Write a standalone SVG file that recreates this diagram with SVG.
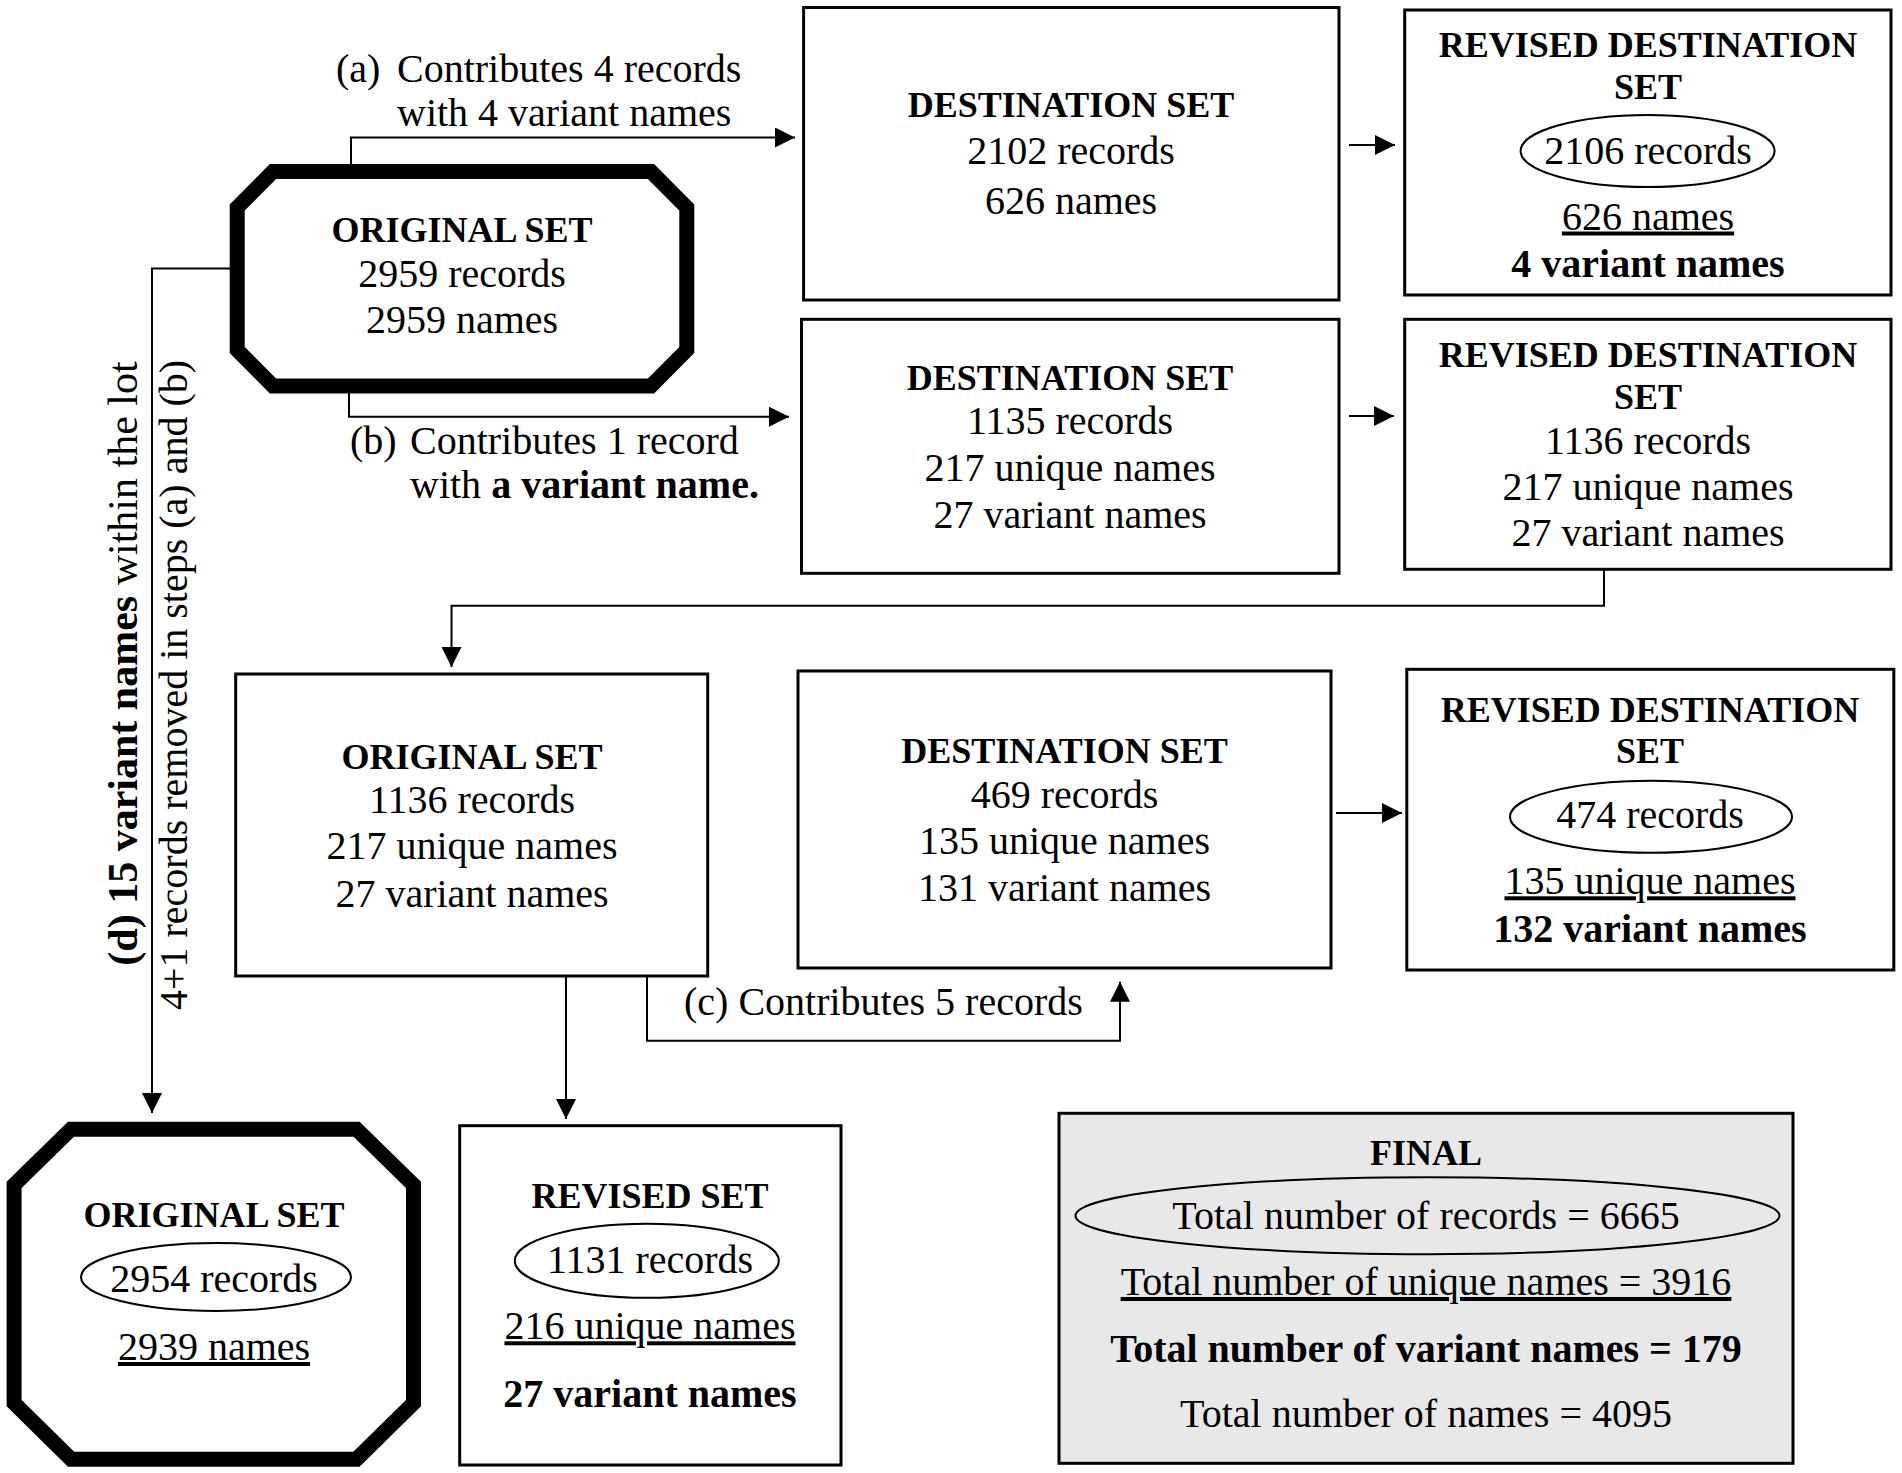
<svg xmlns="http://www.w3.org/2000/svg" width="1902" height="1473" viewBox="0 0 1902 1473">
<style>
.t{font-family:"Liberation Serif","Times New Roman",serif;font-size:40px;text-anchor:middle;fill:#000}
.h{font-weight:bold;font-size:36px}
.b{font-weight:bold}
.l{text-anchor:start}
.u{text-decoration:underline}
.box{fill:#fff;stroke:#000;stroke-width:3}
.oct{fill:#fff;stroke:#000;stroke-width:15;stroke-linejoin:miter}
.ell{fill:none;stroke:#000;stroke-width:2}
.conn{fill:none;stroke:#000;stroke-width:2}
</style>
<defs>
<marker id="arr" markerUnits="userSpaceOnUse" markerWidth="20" markerHeight="20" refX="20" refY="10" orient="auto">
<path d="M0,0 L20,10 L0,20 Z" fill="#000"/>
</marker>
</defs>
<rect width="1902" height="1473" fill="#fff"/>

<g id="connectors">
<path class="conn" d="M351,164 V137.5 H795" marker-end="url(#arr)"/>
<path class="conn" d="M349,393 V416.7 H789" marker-end="url(#arr)"/>
<path class="conn" d="M230,268.5 H152 V1113" marker-end="url(#arr)"/>
<path class="conn" d="M1349,145 H1395" marker-end="url(#arr)"/>
<path class="conn" d="M1349,416 H1394" marker-end="url(#arr)"/>
<path class="conn" d="M1604,569 V605.7 H451.5 V667" marker-end="url(#arr)"/>
<path class="conn" d="M1336,813 H1402" marker-end="url(#arr)"/>
<path class="conn" d="M566,976 V1119" marker-end="url(#arr)"/>
<path class="conn" d="M647,976 V1040.7 H1120 V981.7" marker-end="url(#arr)"/>
</g>

<g id="labels">
<text class="t l" x="336" y="82">(a)</text>
<text class="t l" x="397" y="82">Contributes 4 records</text>
<text class="t l" x="397" y="126">with 4 variant names</text>
<text class="t l" x="350" y="454">(b)</text>
<text class="t l" x="410" y="454">Contributes 1 record</text>
<text class="t l" x="410" y="498">with <tspan class="b">a variant name.</tspan></text>
<text class="t l" x="684" y="1015">(c) Contributes 5 records</text>
<text class="t" style="font-size:42px" transform="translate(137,663.5) rotate(-90)"><tspan class="b">(d) 15 variant names</tspan> within the lot</text>
<text class="t" transform="translate(186.5,685) rotate(-90)">4+1 records removed in steps (a) and (b)</text>
</g>

<g id="original-set-1">
<polygon class="oct" points="273,171.5 651,171.5 686.8,207.5 686.8,350 651,386 273,386 237.2,350 237.2,207.5"/>
<text class="t h" x="462" y="241.7">ORIGINAL SET</text>
<text class="t" x="462" y="286.7">2959 records</text>
<text class="t" x="462" y="333.3">2959 names</text>
</g>

<g id="destination-set-1">
<rect class="box" x="803.6" y="7.5" width="535.4" height="292.5"/>
<text class="t h" x="1071" y="116.5">DESTINATION SET</text>
<text class="t" x="1071" y="163.5">2102 records</text>
<text class="t" x="1071" y="213.5">626 names</text>
</g>

<g id="revised-destination-set-1">
<rect class="box" x="1404.7" y="10" width="486.3" height="285"/>
<text class="t h" x="1648" y="57">REVISED DESTINATION</text>
<text class="t h" x="1648" y="98.5">SET</text>
<ellipse class="ell" cx="1647.6" cy="151" rx="127" ry="36"/>
<text class="t" x="1648" y="164">2106 records</text>
<text class="t u" x="1648" y="229.5">626 names</text>
<text class="t b" x="1648" y="276.5">4 variant names</text>
</g>

<g id="destination-set-2">
<rect class="box" x="801.5" y="319.3" width="537.5" height="254"/>
<text class="t h" x="1070" y="390.3">DESTINATION SET</text>
<text class="t" x="1070" y="433.5">1135 records</text>
<text class="t" x="1070" y="481">217 unique names</text>
<text class="t" x="1070" y="527.5">27 variant names</text>
</g>

<g id="revised-destination-set-2">
<rect class="box" x="1404.7" y="319.3" width="486.3" height="250"/>
<text class="t h" x="1648" y="366.5">REVISED DESTINATION</text>
<text class="t h" x="1648" y="409">SET</text>
<text class="t" x="1648" y="453.5">1136 records</text>
<text class="t" x="1648" y="500">217 unique names</text>
<text class="t" x="1648" y="545.5">27 variant names</text>
</g>

<g id="original-set-2">
<rect class="box" x="235.7" y="674" width="472" height="302"/>
<text class="t h" x="472" y="768.5">ORIGINAL SET</text>
<text class="t" x="472" y="813">1136 records</text>
<text class="t" x="472" y="859">217 unique names</text>
<text class="t" x="472" y="906.5">27 variant names</text>
</g>

<g id="destination-set-3">
<rect class="box" x="798" y="671" width="533" height="297"/>
<text class="t h" x="1064.5" y="762.7">DESTINATION SET</text>
<text class="t" x="1064.5" y="808.3">469 records</text>
<text class="t" x="1064.5" y="854">135 unique names</text>
<text class="t" x="1064.5" y="900.7">131 variant names</text>
</g>

<g id="revised-destination-set-3">
<rect class="box" x="1406.8" y="669.3" width="487" height="300.7"/>
<text class="t h" x="1650" y="721.7">REVISED DESTINATION</text>
<text class="t h" x="1650" y="763.3">SET</text>
<ellipse class="ell" cx="1651" cy="816.8" rx="141" ry="36"/>
<text class="t" x="1650" y="828.3">474 records</text>
<text class="t u" x="1650" y="894.3">135 unique names</text>
<text class="t b" x="1650" y="941.7">132 variant names</text>
</g>

<g id="original-set-final">
<polygon class="oct" points="71,1129.2 356.5,1129.2 413.5,1185 413.5,1403 356.5,1459.2 71,1459.2 14.1,1403 14.1,1185"/>
<text class="t h" x="214" y="1226.7">ORIGINAL SET</text>
<ellipse class="ell" cx="216" cy="1277" rx="135" ry="34"/>
<text class="t" x="214" y="1291.7">2954 records</text>
<text class="t u" x="214" y="1360">2939 names</text>
</g>

<g id="revised-set">
<rect class="box" x="459.7" y="1125.7" width="381.3" height="339.3"/>
<text class="t h" x="650" y="1208.3">REVISED SET</text>
<ellipse class="ell" cx="646.8" cy="1260.8" rx="132" ry="37"/>
<text class="t" x="650" y="1272.7">1131 records</text>
<text class="t u" x="650" y="1339.3">216 unique names</text>
<text class="t b" x="650" y="1406.7">27 variant names</text>
</g>

<g id="final">
<rect class="box" x="1059" y="1113.3" width="734" height="350" style="fill:#e8e8e8"/>
<text class="t h" x="1426" y="1165">FINAL</text>
<ellipse class="ell" cx="1427.5" cy="1215.7" rx="352" ry="38.5"/>
<text class="t" x="1426" y="1229.3">Total number of records = 6665</text>
<text class="t u" x="1426" y="1295">Total number of unique names = 3916</text>
<text class="t b" x="1426" y="1361.7">Total number of variant names = 179</text>
<text class="t" x="1426" y="1426.7">Total number of names = 4095</text>
</g>
</svg>
